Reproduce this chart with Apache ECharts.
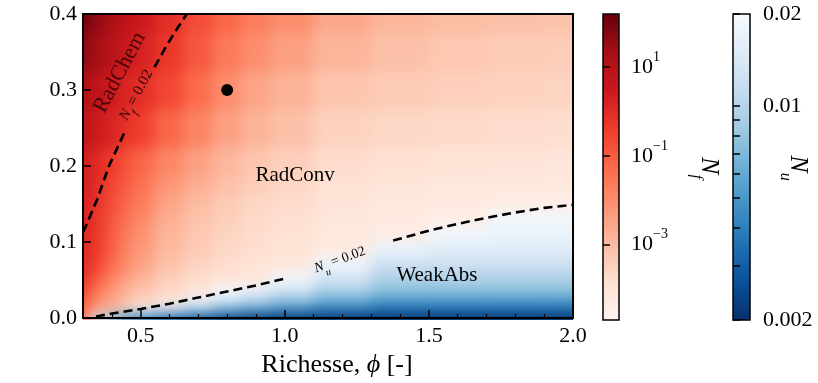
<!DOCTYPE html>
<html>
<head>
<meta charset="utf-8">
<script src="https://cdn.jsdelivr.net/npm/echarts@6/dist/echarts.min.js"></script>
<style>
html,body{margin:0;padding:0;background:#fff;}
#chart{width:818px;height:383px;}
</style>
</head>
<body>
<div id="chart"></div>
<script>
// ---------------- DATA ----------------
// cell centres (richesse phi, columns) and (y_H2O, rows)
const phiCols = [0.3, 0.35, 0.4, 0.45, 0.5, 0.6, 0.7, 0.8, 0.9, 1.0, 1.2, 1.4, 1.6, 1.8, 2.0];
const yRows   = [0, 0.01, 0.02, 0.035, 0.05, 0.07, 0.09, 0.11, 0.13, 0.15, 0.175, 0.2, 0.25, 0.3, 0.35, 0.4];

const nfLog = [
  [-1.5, null, null, null, null, null, null, null, null, null, null, null, null, null, null],
  [-1.3, -2.3, -2.9, -3.4, null, null, null, null, null, null, null, null, null, null, null],
  [-1.0, -2.0, -2.6, -3.1, -3.5, -4.0, null, null, null, null, null, null, null, null, null],
  [-0.6, -1.6, -2.2, -2.8, -3.25, -3.7, -4.05, null, null, null, null, null, null, null, null],
  [-0.2, -1.0, -1.8, -2.4, -2.9, -3.45, -3.8, -4.0, -4.15, null, null, null, null, null, null],
  [0.0, -0.5, -1.3, -1.95, -2.5, -3.15, -3.55, -3.8, -3.97, -4.12, null, null, null, null, null],
  [0.05, -0.35, -1.05, -1.75, -2.3, -2.95, -3.35, -3.62, -3.8, -3.95, -4.25, null, null, null, null],
  [0.1, -0.3, -0.95, -1.6, -2.15, -2.85, -3.25, -3.55, -3.75, -3.9, -4.15, -4.35, null, null, null],
  [0.15, -0.25, -0.85, -1.4, -1.95, -2.7, -3.15, -3.45, -3.68, -3.82, -4.08, -4.25, -4.38, null, null],
  [0.2, -0.15, -0.7, -1.2, -1.7, -2.5, -3.0, -3.35, -3.6, -3.75, -4.02, -4.15, -4.25, -4.33, -4.4],
  [0.3, -0.05, -0.55, -1.0, -1.45, -2.2, -2.7, -3.1, -3.4, -3.6, -3.92, -4.05, -4.12, -4.18, -4.22],
  [0.4, 0.0, -0.35, -0.8, -1.2, -1.85, -2.4, -2.9, -3.2, -3.45, -3.75, -3.88, -3.95, -4.0, -4.05],
  [0.8, 0.45, 0.15, -0.15, -0.45, -1.2, -1.8, -2.4, -2.8, -3.1, -3.5, -3.62, -3.7, -3.75, -3.8],
  [1.1, 0.8, 0.45, 0.15, -0.1, -0.6, -1.3, -2.0, -2.5, -2.8, -3.2, -3.35, -3.45, -3.5, -3.55],
  [1.7, 1.3, 0.9, 0.55, 0.2, -0.3, -0.9, -1.6, -2.0, -2.4, -2.85, -3.1, -3.25, -3.35, -3.4],
  [2.1, 1.6, 1.2, 0.8, 0.45, -0.1, -0.7, -1.2, -1.65, -2.0, -2.55, -2.85, -3.0, -3.1, -3.15]
];

// log10(N_u) in the WeakAbs region (null elsewhere)
const nuLog = [
  [null, -1.9, -2.1, -2.3, -2.45, -2.55, -2.62, -2.66, -2.69, -2.69, -2.69, -2.69, -2.69, -2.69, -2.69],
  [null, null, null, null, -1.75, -1.9, -2.1, -2.25, -2.33, -2.4, -2.45, -2.5, -2.5, -2.5, -2.5],
  [null, null, null, null, null, null, -1.78, -1.95, -2.05, -2.15, -2.25, -2.33, -2.33, -2.33, -2.33],
  [null, null, null, null, null, null, null, -1.72, -1.8, -1.92, -2.05, -2.13, -2.13, -2.13, -2.13],
  [null, null, null, null, null, null, null, null, null, -1.74, -1.9, -2.03, -2.03, -2.03, -2.03],
  [null, null, null, null, null, null, null, null, null, null, -1.75, -1.92, -1.92, -1.92, -1.92],
  [null, null, null, null, null, null, null, null, null, null, null, -1.78, -1.82, -1.82, -1.82],
  [null, null, null, null, null, null, null, null, null, null, null, null, -1.74, -1.76, -1.76],
  [null, null, null, null, null, null, null, null, null, null, null, null, null, -1.73, -1.74]
];

// contour N_f = 0.02 (two pieces around its label)
const nfContourA = [[0.30, 0.113], [0.31, 0.121], [0.35, 0.157], [0.39, 0.2], [0.446, 0.246]];
const nfContourB = [[0.548, 0.33], [0.585, 0.355], [0.62, 0.377], [0.66, 0.4]];
// contour N_u = 0.02 (two pieces around its label)
const nuContourA = [[0.345, 0.002], [0.4, 0.006], [0.5, 0.012], [0.6, 0.019], [0.7, 0.027], [0.8, 0.035], [0.9, 0.043], [1.0, 0.052]];
const nuContourB = [[1.376, 0.102], [1.5, 0.115], [1.6, 0.124], [1.7, 0.132], [1.8, 0.139], [1.9, 0.145], [2.0, 0.149]];

// operating point
const pointPhi = [0.8];
const pointY = [0.3];

// ticks
const xMajorTicks = [0.5, 1.0, 1.5, 2.0];
const xMinorTicks = [0.4, 0.6, 0.7, 0.8, 0.9, 1.1, 1.2, 1.3, 1.4, 1.6, 1.7, 1.8, 1.9];
const nfBarExponents = [-3, -1, 1];
const nuBarLabels = [0.002, 0.01, 0.02];
const nuBarTicks = [0.002, 0.003, 0.004, 0.005, 0.006, 0.007, 0.008, 0.009, 0.01, 0.02];

// ---------------- STYLE ----------------
const FONT = 'Liberation Serif';
const reds = ['#fff5f0', '#fee0d2', '#fcbba1', '#fc9272', '#fb6a4a', '#ef3b2c', '#cb181d', '#a50f15', '#67000d'];
const bluesR = ['#08306b', '#08519c', '#2171b5', '#4292c6', '#6baed6', '#9ecae1', '#c6dbef', '#deebf7', '#f7fbff'];
const NF_MIN = -4.7, NF_MAX = 2.2;
const NU_MIN = Math.log10(0.002), NU_MAX = Math.log10(0.02);
const PLOT = { left: 83, top: 14, width: 490, height: 306 };

function edges(arr, i, lo, hi) {
  const a = i === 0 ? lo : (arr[i - 1] + arr[i]) / 2;
  const b = i === arr.length - 1 ? hi : (arr[i] + arr[i + 1]) / 2;
  return [a, b];
}
// edge cells are drawn a little past the frame so that the smoothing layer has no white fringe
function buildCells(field) {
  const out = [];
  for (let r = 0; r < field.length; r++) {
    for (let c = 0; c < phiCols.length; c++) {
      const v = field[r][c];
      if (v === null || v === undefined) continue;
      const ex = edges(phiCols, c, 0.22, 2.08);
      const ey = edges(yRows, r, -0.03, 0.43);
      out.push([phiCols[c], yRows[r], v, ex[0], ex[1], ey[0], ey[1]]);
    }
  }
  return out;
}
function renderCell(params, api) {
  const p0 = api.coord([api.value(3), api.value(6)]);
  const p1 = api.coord([api.value(4), api.value(5)]);
  return {
    type: 'rect',
    shape: { x: p0[0] - 0.6, y: p0[1] - 0.6, width: p1[0] - p0[0] + 1.2, height: p1[1] - p0[1] + 1.2 },
    style: { fill: api.visual('color') }
  };
}

const chart = echarts.init(document.getElementById('chart'), null, { renderer: 'canvas' });

const supRich = {
  b: { fontFamily: FONT, fontSize: 22, color: '#000', lineHeight: 22 },
  s: { fontFamily: FONT, fontSize: 14, color: '#000', lineHeight: 34, verticalAlign: 'top' }
};

const dashed = { color: '#000', width: 2.6, type: [9, 5] };
function contourSeries(data) {
  return {
    type: 'line', zlevel: 1, xAxisIndex: 0, yAxisIndex: 0, data: data, showSymbol: false, symbol: 'none',
    lineStyle: dashed, z: 4, silent: true, clip: true
  };
}

const annotations = [
  { value: [0.428, 0.323], text: 'RadChem', rotate: 62, size: 22, color: '#4a0508' },
  { value: [0.494, 0.2915], text: '{n|N}{s|f}{t| = 0.02}', rotate: 62, size: 15, color: '#2a0505' },
  { value: [1.036, 0.187], text: 'RadConv', rotate: 0, size: 21, color: '#000' },
  { value: [1.528, 0.056], text: 'WeakAbs', rotate: 0, size: 21, color: '#000' },
  { value: [1.195, 0.073], text: '{n|N}{s|u}{t| = 0.02}', rotate: 20, size: 14, color: '#000' }
];

const gridStyle = { show: true, borderColor: '#000', backgroundColor: 'rgba(0,0,0,0)', z: 10, zlevel: 1 };

const option = {
  animation: false,
  backgroundColor: '#fff',
  grid: [
    Object.assign({}, gridStyle, PLOT, { borderWidth: 2 }),
    Object.assign({}, gridStyle, { left: 603, top: 14, width: 16, height: 306, borderWidth: 1.5 }),
    Object.assign({}, gridStyle, { left: 733, top: 14, width: 17, height: 306, borderWidth: 1.5 })
  ],
  xAxis: [
    {
      gridIndex: 0, type: 'value', min: 0.3, max: 2.0, z: 11, zlevel: 1,
      axisLine: { show: false }, splitLine: { show: false },
      axisTick: { inside: true, length: 8, customValues: xMajorTicks, lineStyle: { color: '#000', width: 1.5 } },
      axisLabel: { customValues: xMajorTicks, formatter: v => v.toFixed(1), fontFamily: FONT, fontSize: 22, color: '#000', margin: 7 },
      name: 'Richesse, {i|ϕ} [-]', nameLocation: 'middle', nameGap: 26,
      nameTextStyle: { fontFamily: FONT, fontSize: 26, color: '#000', padding: [0, 0, 0, 18],
        rich: { i: { fontFamily: FONT, fontStyle: 'italic', fontSize: 26, color: '#000' } } }
    },
    {
      gridIndex: 0, type: 'value', min: 0.3, max: 2.0, position: 'bottom', z: 11, zlevel: 1,
      axisLine: { show: false }, splitLine: { show: false }, axisLabel: { show: false },
      axisTick: { inside: true, length: 4, customValues: xMinorTicks, lineStyle: { color: '#000', width: 1.2 } }
    },
    { gridIndex: 1, type: 'value', min: 0, max: 1, show: false, zlevel: 1 },
    { gridIndex: 2, type: 'value', min: 0, max: 1, show: false, zlevel: 1 }
  ],
  yAxis: [
    {
      gridIndex: 0, type: 'value', min: 0, max: 0.4, interval: 0.1, z: 11, zlevel: 1,
      axisLine: { show: false }, splitLine: { show: false },
      axisTick: { inside: true, length: 8, lineStyle: { color: '#000', width: 1.5 } },
      axisLabel: { formatter: v => v.toFixed(1), fontFamily: FONT, fontSize: 22, color: '#000', margin: 6 }
    },
    {
      gridIndex: 1, type: 'value', min: NF_MIN, max: NF_MAX, position: 'right', z: 11, zlevel: 1,
      axisLine: { show: false }, splitLine: { show: false },
      axisTick: { show: true, length: 7, customValues: nfBarExponents, lineStyle: { color: '#000', width: 1.5 } },
      axisLabel: { customValues: nfBarExponents, margin: 12,
        formatter: v => '{b|10}{s|' + (v < 0 ? '−' : '') + Math.abs(v) + '}', rich: supRich }
    },
    {
      gridIndex: 2, type: 'value', min: NU_MIN, max: NU_MAX, position: 'right', z: 11, zlevel: 1,
      axisLine: { show: false }, splitLine: { show: false },
      axisTick: { show: true, length: 7, customValues: nuBarTicks.map(v => Math.log10(v)), lineStyle: { color: '#000', width: 1.5 } },
      axisLabel: { customValues: nuBarLabels.map(v => Math.log10(v)), margin: 13,
        formatter: v => String(Number(Math.pow(10, v).toPrecision(1))),
        fontFamily: FONT, fontSize: 22, color: '#000' }
    }
  ],
  visualMap: [
    { type: 'continuous', seriesIndex: 0, dimension: 2, min: NF_MIN, max: NF_MAX, inRange: { color: reds },
      orient: 'vertical', left: 603, top: 14, itemWidth: 16, itemHeight: 306, padding: 0, calculable: false,
      hoverLink: false, text: null, z: 4, zlevel: 1 },
    { type: 'continuous', seriesIndex: 1, dimension: 2, min: NU_MIN, max: NU_MAX, inRange: { color: bluesR },
      orient: 'vertical', left: 733, top: 14, itemWidth: 17, itemHeight: 306, padding: 0, calculable: false,
      hoverLink: false, text: null, z: 4, zlevel: 1 }
  ],
  series: [
    { type: 'custom', zlevel: 0, xAxisIndex: 0, yAxisIndex: 0, data: buildCells(nfLog), renderItem: renderCell,
      encode: { x: 0, y: 1 }, clip: false, z: 1, silent: true },
    { type: 'custom', zlevel: 0, xAxisIndex: 0, yAxisIndex: 0, data: buildCells(nuLog), renderItem: renderCell,
      encode: { x: 0, y: 1 }, clip: false, z: 1, silent: true },
    contourSeries(nfContourA),
    contourSeries(nfContourB),
    contourSeries(nuContourA),
    contourSeries(nuContourB),
    { type: 'scatter', zlevel: 1, xAxisIndex: 0, yAxisIndex: 0, data: pointPhi.map((p, i) => [p, pointY[i]]),
      symbol: 'circle', symbolSize: 12, itemStyle: { color: '#000', opacity: 1 }, z: 6, silent: true },
    { type: 'scatter', zlevel: 1, xAxisIndex: 0, yAxisIndex: 0, symbolSize: 0, z: 7, silent: true,
      itemStyle: { opacity: 1 },
      data: annotations.map(a => ({
        value: a.value,
        label: {
          show: true, position: 'inside', formatter: a.text, rotate: a.rotate, opacity: 1,
          fontFamily: FONT, fontSize: a.size, color: a.color,
          rich: {
            n: { fontFamily: FONT, fontStyle: 'italic', fontSize: a.size, color: a.color, lineHeight: a.size + 6, verticalAlign: 'top' },
            s: { fontFamily: FONT, fontStyle: 'italic', fontSize: Math.round(a.size * 0.7), color: a.color, lineHeight: a.size + 6, verticalAlign: 'bottom' },
            t: { fontFamily: FONT, fontSize: a.size, color: a.color, lineHeight: a.size + 6, verticalAlign: 'top' }
          }
        }
      }))
    }
  ],
  graphic: [
    { type: 'group', x: 27, y: 163, rotation: Math.PI / 2, silent: true, zlevel: 1,
      children: [
        { type: 'text', x: -40, y: 0, style: { text: 'y', font: 'italic 22px "Liberation Serif"', fill: '#000', textAlign: 'left', textVerticalAlign: 'middle' } },
        { type: 'text', x: -29, y: -9, style: { text: '0', font: '14px "Liberation Serif"', fill: '#000', textAlign: 'left', textVerticalAlign: 'middle' } },
        { type: 'text', x: -29, y: 7, style: { text: 'H₂O', font: '14px "Liberation Serif"', fill: '#000', textAlign: 'left', textVerticalAlign: 'middle' } },
        { type: 'text', x: 6, y: 0, style: { text: '[-]', font: '21px "Liberation Serif"', fill: '#000', textAlign: 'left', textVerticalAlign: 'middle' } }
      ] },
    { type: 'text', x: 705, y: 168, rotation: -Math.PI / 2, silent: true, zlevel: 1,
      style: { text: '{n|N}{s|f}', textAlign: 'center', textVerticalAlign: 'middle',
        rich: { n: { font: 'italic 26px "Liberation Serif"', fill: '#000', lineHeight: 34, verticalAlign: 'top' },
                s: { font: 'italic 16px "Liberation Serif"', fill: '#000', lineHeight: 34, verticalAlign: 'bottom' } } } },
    { type: 'text', x: 794, y: 168, rotation: -Math.PI / 2, silent: true, zlevel: 1,
      style: { text: '{n|N}{s|u}', textAlign: 'center', textVerticalAlign: 'middle',
        rich: { n: { font: 'italic 26px "Liberation Serif"', fill: '#000', lineHeight: 34, verticalAlign: 'top' },
                s: { font: 'italic 16px "Liberation Serif"', fill: '#000', lineHeight: 34, verticalAlign: 'bottom' } } } }
  ]
};
chart.setOption(option);

// smooth the cell layer (zlevel 0) and keep it inside the plot frame
(function smoothFieldLayer() {
  const painter = chart.getZr().painter;
  const layer = painter && painter.getLayer ? painter.getLayer(0) : null;
  if (layer && layer.dom) {
    const r = 818 - PLOT.left - PLOT.width, b = 383 - PLOT.top - PLOT.height;
    layer.dom.style.filter = 'blur(7px)';
    layer.dom.style.clipPath = 'inset(' + PLOT.top + 'px ' + r + 'px ' + b + 'px ' + PLOT.left + 'px)';
  }
})();
</script>
</body>
</html>
